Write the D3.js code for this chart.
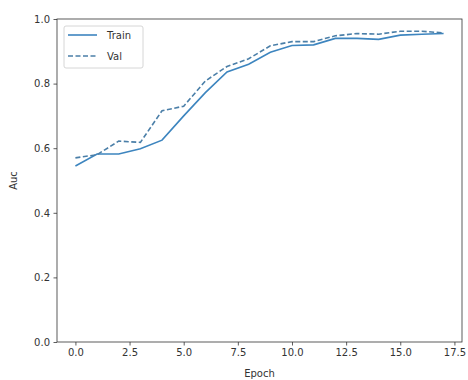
<!DOCTYPE html>
<html>
<head>
<meta charset="utf-8">
<script src="https://cdn.jsdelivr.net/npm/d3@7"></script>
<style>
  html, body { margin: 0; padding: 0; background: #fff; }
  svg { display: block; }
  text { font-family: "DejaVu Sans", sans-serif; fill: #333; }
</style>
</head>
<body>
<div id="chart"></div>
<script>
const epochs = [0,1,2,3,4,5,6,7,8,9,10,11,12,13,14,15,16,17];
const trainAuc = [0.545,0.582,0.582,0.598,0.625,0.700,0.772,0.836,0.860,0.897,0.918,0.920,0.940,0.940,0.937,0.950,0.953,0.955];
const valAuc   = [0.570,0.580,0.622,0.618,0.716,0.730,0.808,0.853,0.877,0.917,0.930,0.930,0.948,0.955,0.953,0.962,0.962,0.957];
const xTicks = [0.0,2.5,5.0,7.5,10.0,12.5,15.0,17.5];
const yTicks = [0.0,0.2,0.4,0.6,0.8,1.0];
const seriesNames = ["Train","Val"];

const W = 468, H = 380;
const m = {left: 57, right: 6, top: 19, bottom: 38};
const svg = d3.select("#chart").append("svg").attr("width", W).attr("height", H);

const x = d3.scaleLinear().domain([-0.85, 17.85]).range([m.left, W - m.right]);
const y = d3.scaleLinear().domain([0, 1]).range([H - m.bottom, m.top]);

const color = "#3d85bf";

// lines
const line = d3.line().x((d,i) => x(epochs[i])).y(d => y(d));
svg.append("path").datum(trainAuc).attr("d", line)
  .attr("fill","none").attr("stroke", color).attr("stroke-width", 1.6);
svg.append("path").datum(valAuc).attr("d", line)
  .attr("fill","none").attr("stroke", "#4b7fa8").attr("stroke-width", 1.6)
  .attr("stroke-dasharray", "5,2.5");

// axes
const xAxis = d3.axisBottom(x).tickValues(xTicks).tickFormat(d3.format(".1f")).tickSize(3.5).tickPadding(3.5);
const yAxis = d3.axisLeft(y).tickValues(yTicks).tickFormat(d3.format(".1f")).tickSize(3.5).tickPadding(3.5);
const gx = svg.append("g").attr("transform", `translate(0,${H - m.bottom})`).call(xAxis);
const gy = svg.append("g").attr("transform", `translate(${m.left},0)`).call(yAxis);
[gx, gy].forEach(g => {
  g.select(".domain").remove();
  g.selectAll(".tick line").attr("stroke", "#333").attr("stroke-width", 0.8);
  g.selectAll(".tick text").attr("font-size", 10).attr("fill", "#333")
    .style("font-family", "'DejaVu Sans', sans-serif");
});

// frame
svg.append("rect").attr("x", m.left).attr("y", m.top)
  .attr("width", W - m.right - m.left).attr("height", H - m.bottom - m.top)
  .attr("fill", "none").attr("stroke", "#333").attr("stroke-width", 0.8);

// labels
svg.append("text").attr("x", (m.left + W - m.right)/2).attr("y", H - 3)
  .attr("text-anchor","middle").attr("font-size", 10).text("Epoch");
svg.append("text").attr("transform", `translate(17,${(m.top + H - m.bottom)/2}) rotate(-90)`)
  .attr("text-anchor","middle").attr("font-size", 10).text("Auc");

// legend
const lg = svg.append("g");
lg.append("rect").attr("x", 64).attr("y", 26).attr("width", 79).attr("height", 42).attr("rx", 2)
  .attr("fill", "#fff").attr("fill-opacity", 0.8).attr("stroke", "#ccc").attr("stroke-width", 0.8);
seriesNames.forEach((name, i) => {
  const yy = 35 + i * 21;
  lg.append("line").attr("x1", 68).attr("x2", 97).attr("y1", yy).attr("y2", yy)
    .attr("stroke", i === 0 ? color : "#4b7fa8").attr("stroke-width", 1.6)
    .attr("stroke-dasharray", i === 1 ? "5,2.5" : null);
  lg.append("text").attr("x", 107).attr("y", yy).attr("dy", "0.35em")
    .attr("font-size", 10).text(name);
});
</script>
</body>
</html>
